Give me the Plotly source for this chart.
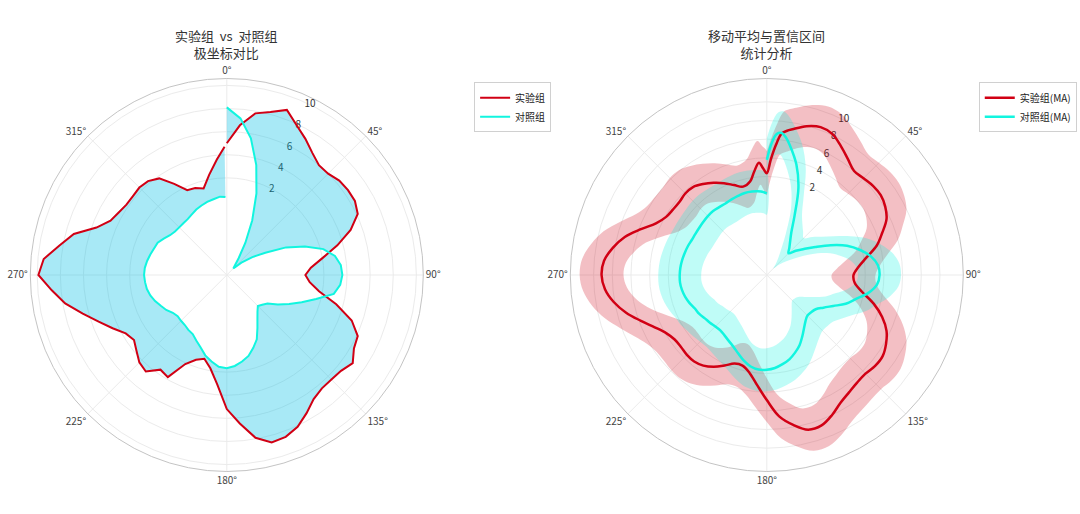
import plotly.graph_objects as go

# raw readings, every 5 degrees (last point just before 360)
angles = list(range(0, 360, 5)) + [359]

exp_values = [5.0, 6.6, 7.8, 8.2, 8.8, 7.9, 7.2, 6.5, 6.0, 6.0,
              6.3, 6.4, 6.4, 6.1, 5.0, 3.5, 2.0, 0.9, 0.4, 0.8,
              1.7, 3.4, 5.1, 6.1, 6.3, 6.9, 6.5, 6.4, 6.4, 6.7,
              7.4, 8.1, 8.5, 8.6, 7.9, 6.5, 5.2, 3.1, 1.8, 1.1,
              1.4, 2.1, 3.8, 3.6, 4.5, 4.3, 3.8, 3.4, 3.7, 4.5,
              5.4, 6.5, 7.8, 8.8, 9.9, 9.5, 8.3, 7.3, 5.6, 4.7,
              4.4, 4.2, 4.2, 4.3, 4.2, 3.8, 2.7, 1.7, 1.6, 1.35,
              2.4, 3.6, 4.7]

ctrl_values = [8.1, 7.2, 5.6, 3.45, 1.1, -1.2, -3.2, -4.6, -5.3, -5.6,
               -4.75, -3.7, -2.55, -0.75, 0.8, 2.25, 3.1, 3.5, 3.6, 3.45,
               3.0, 1.6, 0.5, -0.45, -1.3, -2.1, -2.4, -2.6, -2.27, -1.78,
               -1.1, -0.26, 0.3, 0.85, 1.2, 1.5, 1.67, 1.57, 1.2, 0.8,
               0.25, -0.15, -0.5, -0.6, -0.75, -0.8, -0.85, -0.7, -0.35, -0.1,
               0.2, 0.45, 0.62, 0.7, 0.76, 0.72, 0.6, 0.45, 0.3, 0.2,
               -0.1, -0.4, -0.55, -0.58, -0.55, -0.5, -0.35, -0.15, 0.0, 0.15,
               0.25, 0.4, 0.35]

# moving averages
ma_angles = [0, 2, 4, 6, 8] + list(range(10, 351, 5)) + [353, 356, 358, 360]

exp_ma = [2.35, 3.85, 5.4, 6.7, 7.05,
          7.3, 7.95, 8.3, 8.1, 7.35, 6.6, 6.0, 6.1, 6.3, 6.35,
          6.1, 5.6, 4.6, 3.65, 2.3, 1.3, 0.74, 0.9, 1.8, 3.3,
          4.6, 5.6, 6.2, 6.6, 6.6, 6.4, 6.5, 6.8, 7.25, 8.0,
          8.6, 8.6, 7.75, 6.65, 4.85, 3.3, 2.1, 1.5, 1.55, 2.15,
          2.8, 3.3, 3.55, 3.55, 3.45, 3.5, 3.9, 4.7, 5.8, 7.05,
          8.1, 8.85, 9.15, 8.95, 8.2, 7.2, 5.8, 4.55, 3.9, 3.7,
          3.65, 3.8, 3.75, 3.35, 2.85, 2.3, 1.7, 1.25, 1.65,
          2.6, 3.5, 2.9, 2.35]

ctrl_ma = [3.78, 5.5, 6.6, 6.75, 6.3,
           5.6, 3.7, 1.35, -1.5, -3.3, -4.2, -4.8, -5.26, -4.5, -3.7,
           -2.55, -1.0, 0.6, 1.8, 2.8, 3.4, 3.53, 3.3, 2.5, 1.35,
           0.45, -0.7, -1.55, -2.15, -2.35, -2.4, -2.1, -1.6, -0.95, -0.25,
           0.3, 0.8, 1.15, 1.45, 1.6, 1.62, 1.4, 0.95, 0.4, -0.08,
           -0.4, -0.65, -0.8, -0.75, -0.6, -0.45, -0.2, -0.05, 0.25, 0.5,
           0.68, 0.78, 0.78, 0.74, 0.66, 0.55, 0.45, 0.32, 0.28, 0.28,
           0.32, 0.38, 0.4, 0.33, 0.3, 0.38, 0.47, 0.55, 0.52,
           0.48, 0.42, 0.32, 0.2]

exp_ci = 2.35
ctrl_ci = 2.3

tick_deg = [0, 45, 90, 135, 180, 225, 270, 315]
tick_txt = [f"{d}°" for d in tick_deg]
r_ticks = [2, 4, 6, 8, 10]

red = "#d10014"
cyan = "#12f5df"
font = "Noto Sans CJK SC"

fig = go.Figure()

# left: fill between the two groups, then the lines
fig.add_trace(go.Scatterpolar(
    theta=angles + angles[::-1], r=exp_values + ctrl_values[::-1],
    mode="lines", fill="toself", fillcolor="rgba(0,190,230,0.34)",
    line=dict(width=0), hoverinfo="skip", showlegend=False, subplot="polar"))
fig.add_trace(go.Scatterpolar(
    theta=angles, r=exp_values, mode="lines", name="实验组",
    line=dict(color=red, width=2), subplot="polar", legend="legend"))
fig.add_trace(go.Scatterpolar(
    theta=angles, r=ctrl_values, mode="lines", name="对照组",
    line=dict(color=cyan, width=2), subplot="polar", legend="legend"))

# right: confidence bands + moving averages
exp_hi = [v + exp_ci for v in exp_ma]
exp_lo = [v - exp_ci for v in exp_ma]
ctrl_hi = [v + ctrl_ci for v in ctrl_ma]
ctrl_lo = [v - ctrl_ci for v in ctrl_ma]

fig.add_trace(go.Scatterpolar(
    theta=ma_angles + ma_angles[::-1], r=exp_hi + exp_lo[::-1],
    mode="lines", fill="toself", fillcolor="rgba(209,0,20,0.25)",
    line=dict(width=0, shape="spline"), hoverinfo="skip", showlegend=False, subplot="polar2"))
fig.add_trace(go.Scatterpolar(
    theta=ma_angles + ma_angles[::-1], r=ctrl_hi + ctrl_lo[::-1],
    mode="lines", fill="toself", fillcolor="rgba(0,245,224,0.25)",
    line=dict(width=0, shape="spline"), hoverinfo="skip", showlegend=False, subplot="polar2"))
fig.add_trace(go.Scatterpolar(
    theta=ma_angles, r=exp_ma, mode="lines", name="实验组(MA)",
    line=dict(color=red, width=2.5, shape="spline"), subplot="polar2", legend="legend2"))
fig.add_trace(go.Scatterpolar(
    theta=ma_angles, r=ctrl_ma, mode="lines", name="对照组(MA)",
    line=dict(color=cyan, width=2.5, shape="spline"), subplot="polar2", legend="legend2"))


def polar_style(xdom, rng):
    return dict(
        domain=dict(x=xdom, y=[0.0827, 0.8473]),
        bgcolor="white",
        angularaxis=dict(rotation=90, direction="clockwise",
                         tickmode="array", tickvals=tick_deg, ticktext=tick_txt,
                         tickfont=dict(size=10, color="#444"),
                         showline=True, linecolor="#c4c4c4", linewidth=1,
                         gridcolor="#ebebeb", ticks="", layer="below traces"),
        radialaxis=dict(range=rng, tickmode="array", tickvals=r_ticks,
                        angle=67.5, tickangle=67.5, showline=False, ticks="",
                        tickfont=dict(size=10, color="#333"),
                        gridcolor="#ebebeb", layer="below traces"),
    )


def subplot_title(text, x):
    return dict(text=text, x=x, y=1 - 44 / 514, xref="paper", yref="paper",
                xanchor="center", yanchor="middle", showarrow=False,
                font=dict(size=13, color="#333", family=font))


legend_style = dict(yanchor="top", bgcolor="white",
                    bordercolor="#d0d0d0", borderwidth=1,
                    font=dict(size=10, family=font, color="#222"),
                    itemwidth=30, tracegroupgap=0)

fig.update_layout(
    width=1080, height=514,
    template="none",
    paper_bgcolor="white",
    font=dict(family=font),
    margin=dict(l=0, r=0, t=0, b=0, autoexpand=False),
    polar=polar_style([0.028, 0.392], [-6.4, 10.6]),
    polar2=polar_style([0.528, 0.892], [-8.55, 12.5]),
    legend=dict(x=0.439, y=0.84, xanchor="left", **legend_style),
    legend2=dict(x=0.997, y=0.84, xanchor="right", **legend_style),
    annotations=[
        subplot_title("实验组\u00a0\u00a0vs\u00a0\u00a0对照组<br>极坐标对比", 0.21),
        subplot_title("移动平均与置信区间<br>统计分析", 0.71),
    ],
)

fig.write_html("out.html", config={"displayModeBar": False},
               post_script="document.body.style.margin = '0';")
